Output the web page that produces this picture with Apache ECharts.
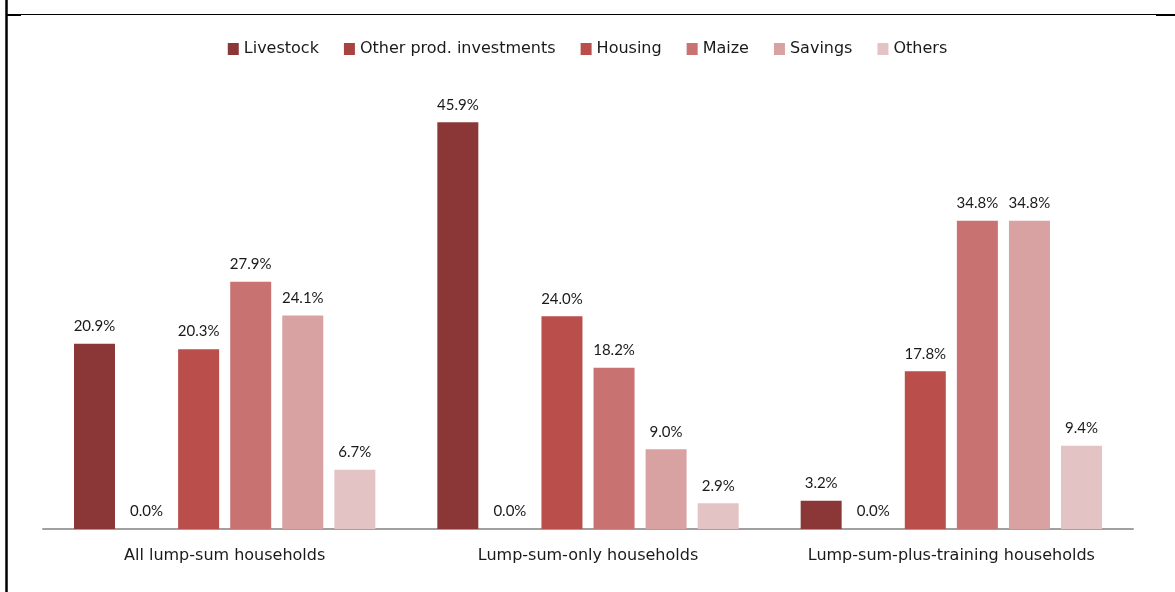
<!DOCTYPE html>
<html lang="en">

<head>
    <meta charset="UTF-8">
    <title>lump-sum spending</title>
    <script src="https://cdn.jsdelivr.net/npm/echarts@6/dist/echarts.min.js"></script>
    <style>
        html,
        body,
        #main {
            padding: 0px;
            margin: 0px;
            width: 100%;
            height: 100%;
            background: #fff;
        }
    </style>
</head>

<body>
    <div id="main"></div>
    <script type="text/javascript">
        // data
        var groups = ['All lump-sum households', 'Lump-sum-only households', 'Lump-sum-plus-training households'];
        var categories = ['Livestock', 'Other prod. investments', 'Housing', 'Maize', 'Savings', 'Others'];
        var livestock = [20.9, 45.9, 3.2];
        var otherProd = [0.0, 0.0, 0.0];
        var housing = [20.3, 24.0, 17.8];
        var maize = [27.9, 18.2, 34.8];
        var savings = [24.1, 9.0, 34.8];
        var others = [6.7, 2.9, 9.4];
        var colors = ['#8b3737', '#a84341', '#b94e4b', '#c87372', '#d8a2a2', '#e4c3c5'];

        var chart = echarts.init(document.getElementById('main'));
        var numFont = 'Lato, "Open Sans", sans-serif';
        var txtFont = '"DejaVu Sans", sans-serif';

        var values = [livestock, otherProd, housing, maize, savings, others];
        var series = categories.map(function (name, i) {
            return {
                name: name,
                type: 'bar',
                data: values[i],
                barWidth: 41,
                barGap: '27%',
                itemStyle: { color: colors[i] },
                label: {
                    show: true,
                    position: 'top',
                    distance: 10,
                    color: '#1a1a1a',
                    fontFamily: numFont,
                    fontSize: 15,
                    formatter: function (p) { return p.value.toFixed(1) + '%'; }
                }
            };
        });

        var option = {
            animation: false,
            legend: {
                data: categories,
                top: 36,
                left: 'center',
                itemWidth: 11,
                itemHeight: 12,
                itemGap: 25,
                icon: 'rect',
                textStyle: { fontSize: 16, color: '#1a1a1a', fontFamily: txtFont }
            },
            grid: {
                left: 43,
                right: 42,
                top: 86,
                bottom: 63
            },
            xAxis: {
                type: 'category',
                data: groups,
                axisTick: { show: false },
                axisLine: { lineStyle: { color: '#a0a0a0', width: 2 } },
                axisLabel: { interval: 0, margin: 19, fontSize: 16, color: '#1a1a1a', fontFamily: txtFont }
            },
            yAxis: {
                type: 'value',
                min: 0,
                max: 50,
                show: false
            },
            graphic: [
                // cut-off caption above the frame
                {
                    type: 'text',
                    style: {
                        text: 'Reported spending of lump-sum grant among groups, by category',
                        x: 670, y: 0,
                        align: 'right',
                        verticalAlign: 'bottom',
                        font: 'bold 21px "Liberation Serif", serif',
                        fill: '#000'
                    }
                },
                { type: 'line', shape: { x1: 6.5, y1: 0, x2: 6.5, y2: 592 }, style: { stroke: '#000', lineWidth: 2.5 } },
                { type: 'line', shape: { x1: 7, y1: 14.5, x2: 1175, y2: 14.5 }, style: { stroke: '#000', lineWidth: 1 } },
                { type: 'line', shape: { x1: 7, y1: 15, x2: 21, y2: 15 }, style: { stroke: '#000', lineWidth: 2 } },
                { type: 'line', shape: { x1: 1156, y1: 15, x2: 1175, y2: 15 }, style: { stroke: '#000', lineWidth: 2 } }
            ],
            series: series
        };

        chart.setOption(option);
        window.onresize = function () {
            chart.resize();
        };
    </script>
</body>

</html>
